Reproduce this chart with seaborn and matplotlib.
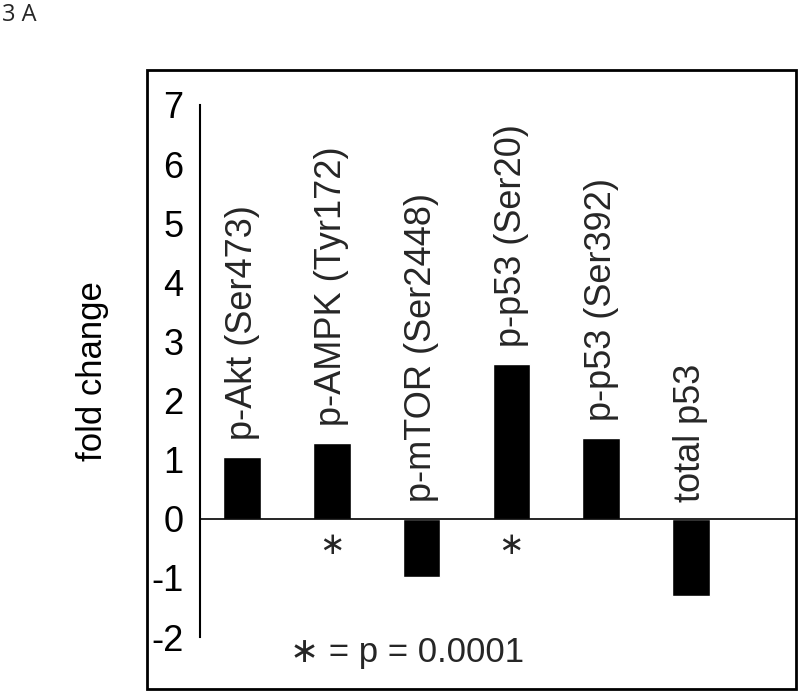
import matplotlib
matplotlib.use("Agg")
import pandas as pd
import matplotlib.pyplot as plt
import seaborn as sns
from matplotlib.patches import Rectangle

# data
proteins = ['p-Akt (Ser473)', 'p-AMPK (Tyr172)', 'p-mTOR (Ser2448)',
            'p-p53 (Ser20)', 'p-p53 (Ser392)', 'total p53']
fold_change = [1.05, 1.29, -0.98, 2.62, 1.37, -1.30]
significant = [False, True, False, True, False, False]
y_ticks = [-2, -1, 0, 1, 2, 3, 4, 5, 6, 7]

df = pd.DataFrame({'protein': proteins, 'fold': fold_change})

sns.set_style("white")
plt.rcParams['font.family'] = ['Liberation Sans', 'DejaVu Sans']

fig = plt.figure(figsize=(8, 6.93), dpi=100)
ax = fig.add_axes([0.25, 0.0808, 0.745, 0.7677])

sns.barplot(data=df, x='protein', y='fold', color='black', saturation=1,
            width=0.42, ax=ax)

ax.set_ylim(-2, 7)
ax.set_xlim(-0.468, 6.17)
ax.set_yticks(y_ticks)
ax.set_yticklabels([str(t) for t in y_ticks])
ax.tick_params(axis='y', length=0, pad=12, labelsize=26, colors='black')
ax.set_xticks([])
ax.set_xlabel('')
ax.set_ylabel('fold change', fontsize=25, color='black')
ax.yaxis.set_label_coords(-0.152, 0.5)

for s in ['top', 'right', 'bottom']:
    ax.spines[s].set_visible(False)
ax.spines['left'].set_linewidth(1.5)
ax.spines['left'].set_color('black')
ax.axhline(0, color='black', lw=1.2)

# labels above bars, asterisks below zero line
for i, (name, v) in enumerate(zip(proteins, fold_change)):
    ax.text(i, max(v, 0) + 0.28, name, rotation=90, ha='center', va='bottom',
            fontsize=26)
    if significant[i]:
        ax.text(i, -0.45, '\u2217', ha='center', va='center', fontsize=22,
                family='DejaVu Sans')

ax.text(0.53, -2.27, '\u2217 = p = 0.0001', ha='left', va='center',
        fontsize=25, clip_on=False)

fig.text(0.003, 0.978, '3 A', fontsize=17, family='Open Sans', va='center')

# outer frame
fig.add_artist(Rectangle((147 / 800, 4 / 693), 649 / 800, 619 / 693,
                         transform=fig.transFigure, fill=False,
                         edgecolor='black', linewidth=2))

fig.savefig('out.png', dpi=100)
